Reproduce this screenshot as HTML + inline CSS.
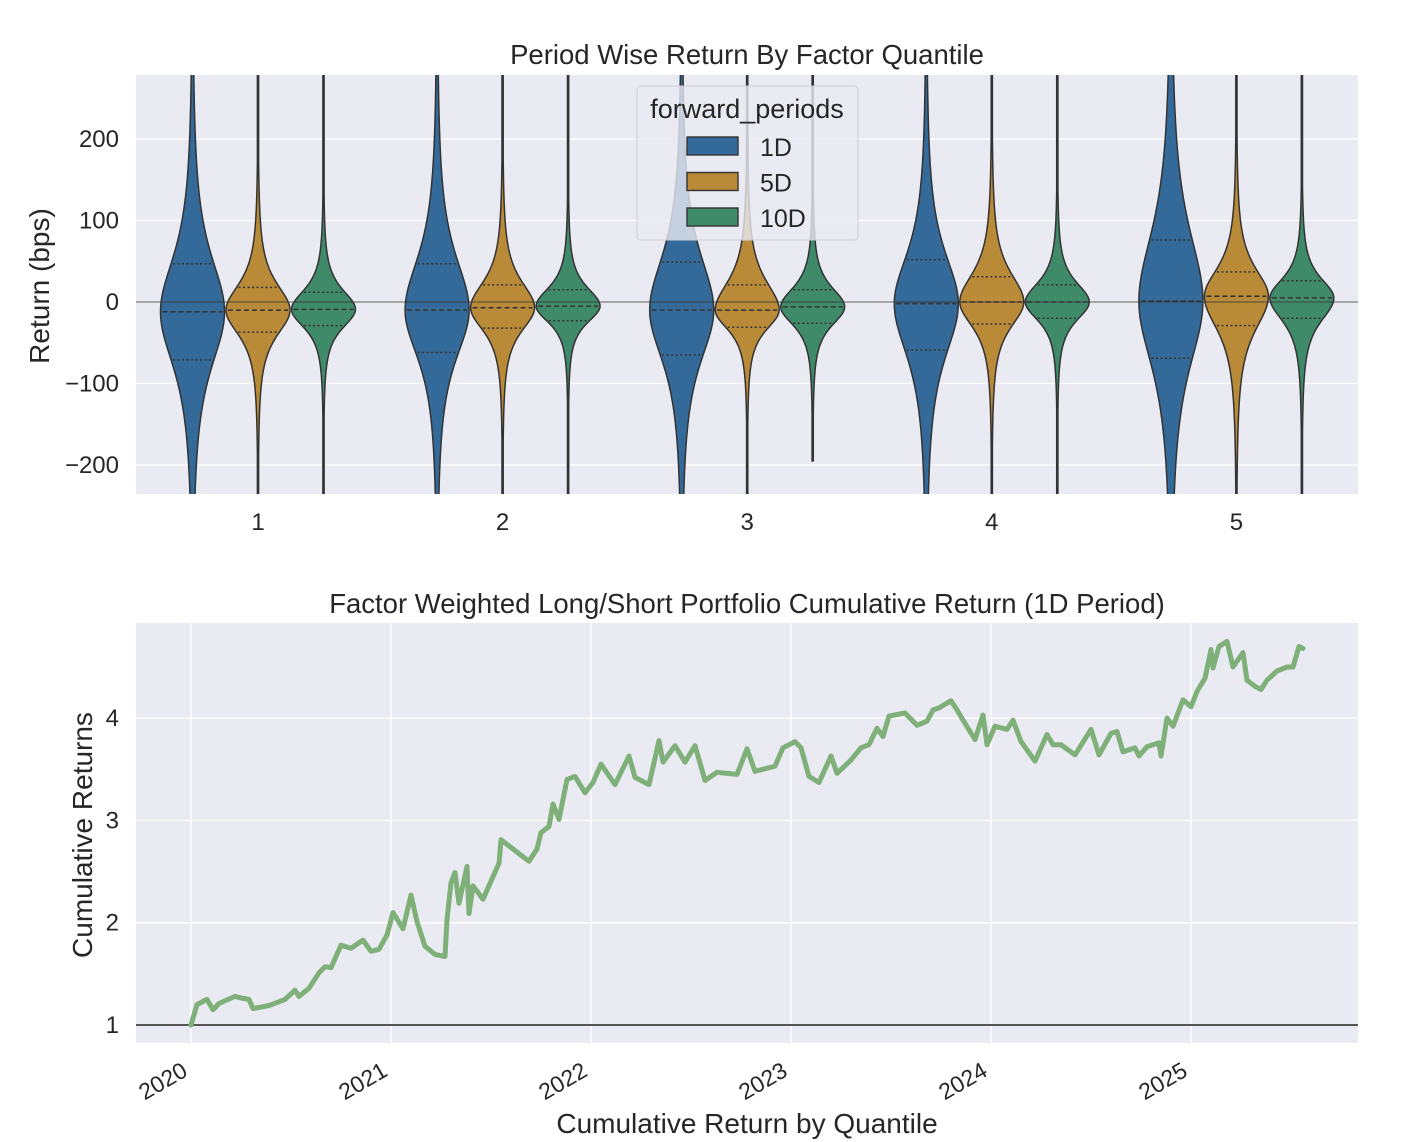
<!DOCTYPE html>
<html><head><meta charset="utf-8">
<style>
body{margin:0;background:#fff;}
svg{display:block;font-family:"Liberation Sans","DejaVu Sans",sans-serif;}
</style></head>
<body>
<svg id="chart" width="1404" height="1142" viewBox="0 0 1404 1142">
<g id="topChart"></g>
<g id="bottomChart"></g>
</svg>
<script>
// ---- Top chart data ----
const quantiles = ["1","2","3","4","5"];
const periods = ["1D","5D","10D"];
const periodColors = ["#346a99","#b98a38","#3f8a69"];
// [quantile][period]
const medians = [[-12,-10,-9],[-10,-7,-5],[-10,-10,-6],[-2,0,0],[1,7,5]];
const q1s = [[-71,-37,-29],[-62,-32,-23],[-65,-31,-26],[-59,-27,-20],[-69,-29,-20]];
const q3s = [[47,18,12],[47,21,15],[49,21,15],[52,31,21],[76,37,26]];
const lows = [[-240,-240,-240],[-240,-240,-240],[-240,-240,-195],[-240,-240,-240],[-240,-240,-240]];
const highs = [[285,285,285],[285,285,285],[285,285,285],[285,285,285],[285,285,285]];
const yTicksTop = [-200,-100,0,100,200];
const yTickLabelsTop = ["\u2212200","\u2212100","0","100","200"];

// ---- Bottom chart data ----
const dates = [2020.00,2020.03,2020.08,2020.11,2020.14,2020.22,2020.26,2020.29,2020.31,2020.39,2020.47,2020.52,2020.54,2020.59,2020.64,2020.67,2020.70,2020.75,2020.80,2020.86,2020.90,2020.94,2020.98,2021.01,2021.06,2021.10,2021.13,2021.17,2021.22,2021.27,2021.28,2021.30,2021.32,2021.34,2021.38,2021.39,2021.41,2021.46,2021.51,2021.54,2021.55,2021.61,2021.69,2021.73,2021.75,2021.79,2021.81,2021.84,2021.88,2021.92,2021.97,2022.01,2022.05,2022.12,2022.19,2022.22,2022.29,2022.34,2022.36,2022.42,2022.47,2022.52,2022.57,2022.63,2022.73,2022.78,2022.82,2022.88,2022.92,2022.96,2023.02,2023.05,2023.09,2023.14,2023.20,2023.23,2023.30,2023.35,2023.39,2023.43,2023.46,2023.49,2023.57,2023.63,2023.68,2023.71,2023.74,2023.80,2023.83,2023.86,2023.92,2023.96,2023.98,2024.02,2024.08,2024.11,2024.15,2024.22,2024.28,2024.31,2024.35,2024.42,2024.50,2024.54,2024.60,2024.63,2024.66,2024.72,2024.74,2024.78,2024.84,2024.85,2024.88,2024.91,2024.96,2025.00,2025.03,2025.07,2025.10,2025.11,2025.14,2025.18,2025.21,2025.26,2025.28,2025.32,2025.35,2025.38,2025.43,2025.48,2025.51,2025.54,2025.56];
const cumReturns = [1.00,1.20,1.25,1.15,1.21,1.28,1.26,1.25,1.16,1.19,1.25,1.34,1.28,1.36,1.51,1.57,1.56,1.78,1.75,1.83,1.72,1.74,1.88,2.10,1.94,2.27,2.01,1.77,1.69,1.67,2.03,2.39,2.49,2.19,2.55,2.09,2.36,2.23,2.45,2.58,2.81,2.72,2.60,2.72,2.88,2.94,3.16,3.01,3.40,3.43,3.27,3.37,3.55,3.35,3.63,3.42,3.35,3.78,3.57,3.73,3.57,3.73,3.39,3.47,3.45,3.70,3.48,3.51,3.53,3.71,3.77,3.71,3.43,3.37,3.63,3.46,3.59,3.71,3.74,3.90,3.82,4.02,4.05,3.93,3.97,4.08,4.10,4.17,4.08,3.98,3.79,4.03,3.74,3.92,3.89,3.98,3.77,3.58,3.84,3.74,3.74,3.64,3.89,3.64,3.85,3.87,3.67,3.71,3.63,3.72,3.76,3.63,4.00,3.92,4.18,4.11,4.26,4.39,4.67,4.49,4.70,4.75,4.50,4.64,4.37,4.31,4.28,4.37,4.46,4.50,4.50,4.70,4.68];
const xTicksBottom = [2020,2021,2022,2023,2024,2025];
const xTickLabelsBottom = ["2020","2021","2022","2023","2024","2025"];
const yTicksBottom = [1,2,3,4];

const NS="http://www.w3.org/2000/svg";
function mk(tag,attrs,parent,text){const e=document.createElementNS(NS,tag);for(const k in attrs)e.setAttribute(k,attrs[k]);if(text!==undefined)e.textContent=text;parent.appendChild(e);return e;}

// ---------- TOP ----------
const topG=document.getElementById('topChart');
const T={x0:136,x1:1358,y0:75,y1:494};
const ty=v=>302 - v*0.815;
const catX=i=>258 + i*244.6;
const offX=j=>(j-1)*65.5;
let bg=mk('rect',{x:T.x0,y:T.y0,width:T.x1-T.x0,height:T.y1-T.y0,fill:'#eaeaf2'},topG);


yTicksTop.forEach((v,i)=>{
  let g=mk('line',{x1:T.x0,x2:T.x1,y1:ty(v),y2:ty(v),stroke:'#fff','stroke-width':1.3},topG);
  
  
  let t=mk('text',{x:T.x0-17,y:ty(v)+8,'text-anchor':'end','font-size':24,fill:'#262626'},topG,yTickLabelsTop[i]);
  
  
});
quantiles.forEach((q,i)=>{
  let t=mk('text',{x:catX(i),y:530,'text-anchor':'middle','font-size':24,fill:'#262626'},topG,q);
  
  
});
let clip=mk('clipPath',{id:'tclip'},topG);mk('rect',{x:T.x0,y:T.y0,width:T.x1-T.x0,height:T.y1-T.y0},clip);
const vg=mk('g',{'clip-path':'url(#tclip)'},topG);
const HW=32;
quantiles.forEach((q,i)=>{
  periods.forEach((p,j)=>{
    const cx=catX(i)+offX(j);
    const m=medians[i][j],lo=q1s[i][j],hi=q3s[i][j];
    const su=(hi-m)/0.553, sd=(m-lo)/0.553;
    const w=v=>{const s=v>=m?su:sd;const z=(v-m)/s;return Math.max(0.6,HW*Math.pow(1+z*z,-1.5));};
    const pts=[];const N=160;
    for(let k=0;k<=N;k++){const v=lows[i][j]+(highs[i][j]-lows[i][j])*k/N;pts.push([cx+w(v),ty(v)]);}
    for(let k=N;k>=0;k--){const v=lows[i][j]+(highs[i][j]-lows[i][j])*k/N;pts.push([cx-w(v),ty(v)]);}
    let path=mk('path',{d:'M'+pts.map(pp=>pp[0].toFixed(2)+','+pp[1].toFixed(2)).join('L')+'Z',fill:periodColors[j],stroke:'#333','stroke-width':1.5},vg);
    
    
    [[lo,'2,2.5'],[m,'5,3'],[hi,'2,2.5']].forEach(([v,da])=>{
      const ww=w(v);
      let l=mk('line',{x1:cx-ww+2,x2:cx+ww-2,y1:ty(v),y2:ty(v),stroke:'#333','stroke-width':1.5,'stroke-dasharray':da},vg);
      
      
    });
  });
});
let zl=mk('line',{x1:T.x0,x2:T.x1,y1:ty(0),y2:ty(0),stroke:'#333','stroke-width':1,'stroke-opacity':0.8},topG);


let tt=mk('text',{x:747,y:64,'text-anchor':'middle','font-size':27.5,fill:'#262626'},topG,'Period Wise Return By Factor Quantile');


let yl=mk('text',{x:0,y:0,'text-anchor':'middle','font-size':28,fill:'#262626',transform:'translate(49,286) rotate(-90)'},topG,'Return (bps)');


// legend
const lg=mk('g',{},topG);


mk('rect',{x:637,y:86,width:221,height:154,rx:4,fill:'#eaeaf2','fill-opacity':0.8,stroke:'#cfcfd6'},lg);
mk('text',{x:747,y:118,'text-anchor':'middle','font-size':27,fill:'#262626'},lg,'forward_periods');
periods.forEach((p,j)=>{
  const y=137+j*35.5;
  let r=mk('rect',{x:687,y:y,width:51,height:18,fill:periodColors[j],stroke:'#333','stroke-width':1.4},lg);
  
  
  let t=mk('text',{x:760,y:y+19,'font-size':25,fill:'#262626'},lg,p);
  
  
});

// ---------- BOTTOM ----------
const botG=document.getElementById('bottomChart');
const B={x0:136,x1:1358,y0:623,y1:1043};
const bx=d=>191+(d-2020)*200;
const by=v=>1025-(v-1)*102.3;
let bbg=mk('rect',{x:B.x0,y:B.y0,width:B.x1-B.x0,height:B.y1-B.y0,fill:'#eaeaf2'},botG);


yTicksBottom.forEach(v=>{
  let g=mk('line',{x1:B.x0,x2:B.x1,y1:by(v),y2:by(v),stroke:'#fff','stroke-width':1.3},botG);
  
  
  let t=mk('text',{x:B.x0-17,y:by(v)+8,'text-anchor':'end','font-size':24,fill:'#262626'},botG,String(v));
  
  
});
xTicksBottom.forEach((d,i)=>{
  let g=mk('line',{x1:bx(d),x2:bx(d),y1:B.y0,y2:B.y1,stroke:'#fff','stroke-width':1.3},botG);
  
  
  let t=mk('text',{x:0,y:0,'text-anchor':'end','font-size':23,fill:'#262626',transform:`translate(${bx(d)-2},${B.y1+32}) rotate(-30)`},botG,xTickLabelsBottom[i]);
  
  
});
let bl=mk('line',{x1:B.x0,x2:B.x1,y1:by(1),y2:by(1),stroke:'#222','stroke-width':1.5},botG);


let cumLine=mk('polyline',{points:dates.map((d,k)=>bx(d).toFixed(1)+','+by(cumReturns[k]).toFixed(1)).join(' '),fill:'none',stroke:'#7fb07a','stroke-width':5,'stroke-linejoin':'round','stroke-linecap':'round'},botG);


let bt=mk('text',{x:747,y:613,'text-anchor':'middle','font-size':27.5,fill:'#262626'},botG,'Factor Weighted Long/Short Portfolio Cumulative Return (1D Period)');


let byl=mk('text',{x:0,y:0,'text-anchor':'middle','font-size':28,fill:'#262626',transform:'translate(92,835) rotate(-90)'},botG,'Cumulative Returns');


let bxl=mk('text',{x:747,y:1133,'text-anchor':'middle','font-size':28,fill:'#262626'},botG,'Cumulative Return by Quantile');


</script>
</body></html>
